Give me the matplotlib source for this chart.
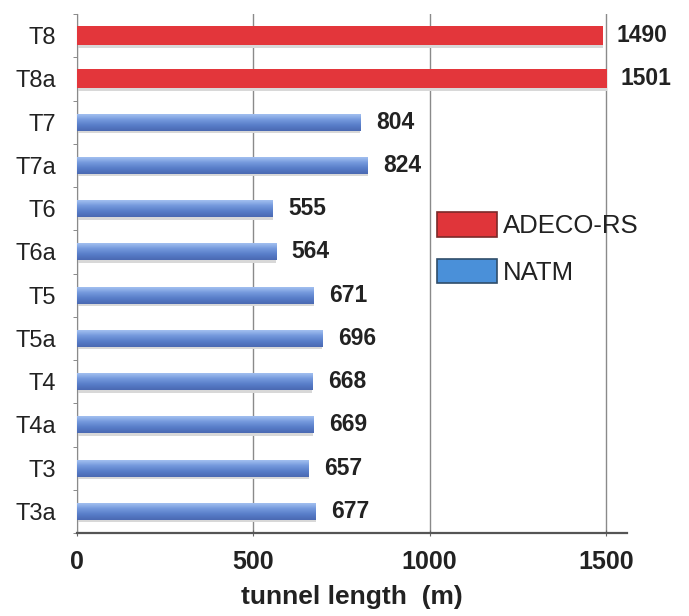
import numpy as np
import matplotlib
matplotlib.use("Agg")
import matplotlib.pyplot as plt
from matplotlib.patches import Patch
from matplotlib.colors import LinearSegmentedColormap

categories = ["T8", "T8a", "T7", "T7a", "T6", "T6a", "T5", "T5a", "T4", "T4a", "T3", "T3a"]
values = [1490, 1501, 804, 824, 555, 564, 671, 696, 668, 669, 657, 677]
methods = ["ADECO-RS", "ADECO-RS", "NATM", "NATM", "NATM", "NATM", "NATM", "NATM",
           "NATM", "NATM", "NATM", "NATM"]
xticks = [0, 500, 1000, 1500]
xlabel = "tunnel length  (m)"

plt.rcParams["font.family"] = ["Liberation Sans", "DejaVu Sans"]

fig = plt.figure(figsize=(6.89, 6.16), dpi=100)
ax = fig.add_axes([76.7/689, 83/616, 550.3/689, 519/616])

red = "#e3363b"
pos = np.arange(len(categories))
heights = [0.44 if m == "ADECO-RS" else 0.39 for m in methods]
colors = [red if m == "ADECO-RS" else "#6b8fd6" for m in methods]

# soft shadow under bars
ax.barh(pos + 0.06, values, height=heights, color="#d8d8d8", zorder=2)
bars = ax.barh(pos, values, height=heights, color=colors, zorder=3)

# gradient for NATM bars
grad = np.linspace(0, 1, 64).reshape(-1, 1)
cmap = LinearSegmentedColormap.from_list("b", ["#a3c0f0", "#7398dc", "#587dc8", "#4a69b2"])
for b, m in zip(bars, methods):
    if m == "NATM":
        x0, y0 = b.get_x(), b.get_y()
        w, h = b.get_width(), b.get_height()
        im = ax.imshow(grad, extent=(x0, x0 + w, y0 + h, y0), aspect="auto",
                       cmap=cmap, zorder=4, interpolation="bicubic")
        im.set_clip_path(b)

for p, v, m in zip(pos, values, methods):
    off = 40 if m == "ADECO-RS" else 45
    ax.text(v + off, p, str(v), va="center", ha="left", fontsize=16.5,
            fontweight="bold", color="#222222", zorder=5)

ax.set_xlim(0, 1559)
ax.set_ylim(11.49, -0.42)
ax.set_yticks(pos)
ax.set_yticklabels(categories, fontsize=17, color="#222222")
ax.set_yticks(np.arange(-0.5, 12, 1), minor=True)
ax.tick_params(axis="y", which="major", length=0, pad=15)
ax.tick_params(axis="y", which="minor", length=3, color="#777777", direction="out")
ax.set_xticks(xticks)
ax.set_xticklabels([str(t) for t in xticks], fontsize=18, fontweight="bold",
                   color="#222222")
ax.tick_params(axis="x", length=5, color="#666666", direction="inout", pad=10)
ax.set_xlabel(xlabel, fontsize=19, fontweight="bold", color="#222222", labelpad=8)

ax.grid(axis="x", color="#8a8a8a", linewidth=1.0, zorder=0)
for s in ["top", "right"]:
    ax.spines[s].set_visible(False)
ax.spines["left"].set_color("#8a8a8a")
ax.spines["bottom"].set_color("#555555")
ax.spines["bottom"].set_linewidth(1.6)

handles = [Patch(facecolor="#e0353a", edgecolor="#7a2a2a", linewidth=1.2),
           Patch(facecolor="#4a90d9", edgecolor="#2f4d6a", linewidth=1.2)]
leg = ax.legend(handles, ["ADECO-RS", "NATM"], loc="upper left",
                bbox_to_anchor=((437 - 76.7) / 550.3, 1 - (212 - 14) / 519),
                frameon=False, fontsize=18.5, handlelength=2.35, handleheight=1.1,
                labelspacing=0.8, handletextpad=0.2, borderpad=0, borderaxespad=0)
for t in leg.get_texts():
    t.set_color("#222222")

fig.savefig("out.png", dpi=100)
